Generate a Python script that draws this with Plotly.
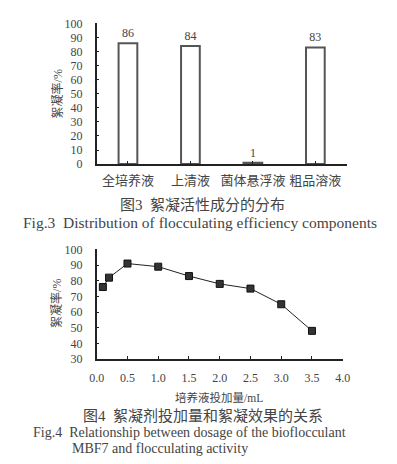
import plotly.graph_objects as go

# Chart 1 data
components = ["全培养液", "上清液", "菌体悬浮液", "粗品溶液"]
flocc_rate = [86, 84, 1, 83]

# Chart 2 data
dosage_ml = [0.1, 0.2, 0.5, 1.0, 1.5, 2.0, 2.5, 3.0, 3.5]
flocc_by_dosage = [76, 82, 91, 89, 83, 78, 75, 65, 48]

FONT = "Liberation Serif, Noto Sans CJK SC, serif"
TXT = "#444444"
AX = "#222222"

fig = go.Figure()

fig.add_trace(go.Bar(
    x=components, y=flocc_rate, width=0.3,
    marker=dict(color="white", line=dict(color="#555555", width=2)),
    text=[str(v) for v in flocc_rate], textposition="outside",
    textfont=dict(family=FONT, size=12, color=TXT),
    cliponaxis=False, xaxis="x", yaxis="y", showlegend=False,
))

fig.add_trace(go.Scatter(
    x=dosage_ml, y=flocc_by_dosage, mode="lines+markers",
    line=dict(color="#222222", width=1),
    marker=dict(symbol="square", size=7, color="#333333",
                line=dict(color="#111111", width=1)),
    xaxis="x2", yaxis="y2", showlegend=False,
))

W, H = 397, 464
def px(x): return x / W
def py(y): return 1 - y / H

axis_common = dict(showline=True, linecolor=AX, linewidth=1.5, showgrid=False,
                   zeroline=False, ticks="inside", ticklen=3, tickcolor=AX,
                   tickfont=dict(family=FONT, size=12, color=TXT))

fig.update_layout(
    width=W, height=H, margin=dict(l=0, r=0, t=0, b=0),
    paper_bgcolor="white", plot_bgcolor="white",
    bargap=0.7,
    xaxis=dict(domain=[px(93), px(352)], anchor="y", **axis_common,
               ticklabelstandoff=4),
    yaxis=dict(domain=[py(162), py(17)], anchor="x", range=[0, 100],
               tickvals=list(range(0, 101, 10)), ticklabelstandoff=10,
               **axis_common),
    xaxis2=dict(domain=[px(93), px(348)], anchor="y2", range=[0, 4],
                tickvals=[0, 0.5, 1, 1.5, 2, 2.5, 3, 3.5, 4],
                ticktext=["0.0", "0.5", "1.0", "1.5", "2.0", "2.5", "3.0", "3.5", "4.0"],
                ticklabelstandoff=7, **axis_common),
    yaxis2=dict(domain=[py(363), py(250)], anchor="x2", range=[30, 100],
                tickvals=list(range(30, 101, 10)), ticklabelstandoff=10,
                **axis_common),
)
fig.update_xaxes(tickfont=dict(size=13), selector=dict(anchor="y"))

ann = [
    dict(text="絮凝率/%", x=px(52), y=py(90), textangle=-90, size=12),
    dict(text="图3  絮凝活性成分的分布", x=px(203), y=py(204), size=15),
    dict(text="Fig.3  Distribution of flocculating efficiency components", x=px(200), y=py(222), size=15.5),
    dict(text="絮凝率/%", x=px(52), y=py(306), textangle=-90, size=12),
    dict(text="培养液投加量/mL", x=px(220), y=py(403), size=11.5),
    dict(text="图4  絮凝剂投加量和絮凝效果的关系", x=px(203), y=py(422), size=15),
]
annotations = []
for a in ann:
    annotations.append(dict(text=a["text"], x=a["x"], y=a["y"], xref="paper", yref="paper",
                            showarrow=False, textangle=a.get("textangle", 0),
                            xanchor="center", yanchor="middle",
                            font=dict(family=FONT, size=a["size"], color=TXT)))
annotations.append(dict(text="Fig.4  Relationship between dosage of the bioflocculant",
                        x=px(26), y=py(438.5), xref="paper", yref="paper", showarrow=False,
                        xanchor="left", yanchor="middle", borderpad=0,
                        font=dict(family=FONT, size=14, color=TXT)))
annotations.append(dict(text="MBF7 and flocculating activity",
                        x=px(66), y=py(455), xref="paper", yref="paper", showarrow=False,
                        xanchor="left", yanchor="middle", borderpad=0,
                        font=dict(family=FONT, size=14, color=TXT)))
fig.update_layout(annotations=annotations)

fig.write_html("out.html", config={"displayModeBar": False},
               post_script="document.body.style.margin='0';document.body.style.overflow='hidden';")
